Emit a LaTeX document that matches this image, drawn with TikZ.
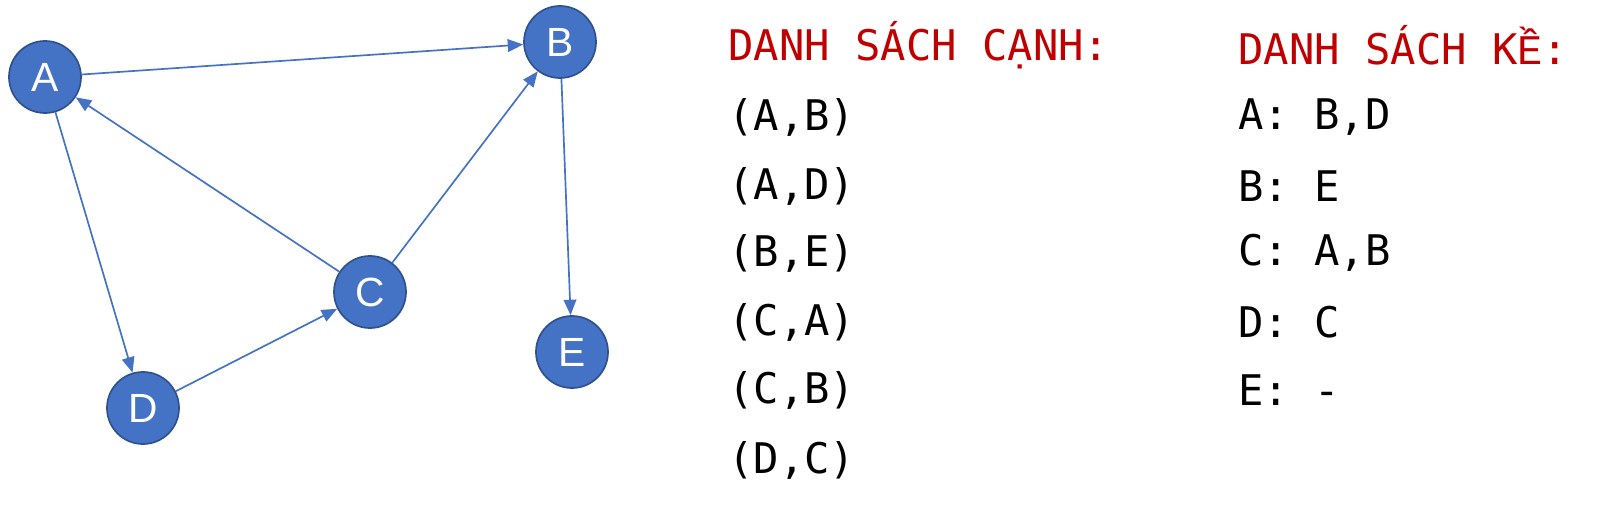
\documentclass[tikz,border=0pt]{standalone}
\usepackage{fontspec}
\setmonofont{DejaVu Sans Mono}
\setsansfont{Liberation Sans}
\newfontfamily\vnmono{Liberation Mono}
\usetikzlibrary{arrows.meta}
\definecolor{nodeblue}{HTML}{4472C4}
\definecolor{nodeedge}{HTML}{2F528F}
\definecolor{headred}{HTML}{C00000}
\tikzset{
  vert/.style = {circle, draw=nodeedge, fill=nodeblue, line width=1.2pt, minimum size=1.8cm,
    inner sep=0pt, text=white, font=\sffamily\fontsize{29}{30}\selectfont},
  edge/.style = {-{Stealth[length=11pt,width=9pt,inset=0pt]}, nodeblue, line width=1.2pt},
  txt/.style = {anchor=west, inner sep=0pt, font=\ttfamily\fontsize{30}{32}\selectfont},
  head/.style = {txt, text=headred}
}
\begin{document}
\begin{tikzpicture}[x=0.025cm, y=-0.025cm]
    \useasboundingbox (0,0) rectangle (1600,524);

    \node[vert] (A) at (45, 77)  {A};
    \node[vert] (B) at (560, 42) {B};
    \node[vert] (C) at (370, 292) {C};
    \node[vert] (D) at (143, 408) {D};
    \node[vert] (E) at (572, 352) {E};

    \draw [edge] (A) -- (B);
    \draw [edge] (A) -- (D);
    \draw [edge] (B) -- (E);
    \draw [edge] (C) -- (A);
    \draw [edge] (C) -- (B);
    \draw [edge] (D) -- (C);

    \node[head] (h1) at (728, 45) {DANH SÁCH CẠNH:};
    \node[head] (h2) at (1238, 45) {DANH SÁCH K{\vnmono Ề}:};

    \node[txt] (e1) at (728, 117) {(A,B)};
    \node[txt] (e2) at (728, 186) {(A,D)};
    \node[txt] (e3) at (728, 253) {(B,E)};
    \node[txt] (e4) at (728, 322) {(C,A)};
    \node[txt] (e5) at (728, 390) {(C,B)};
    \node[txt] (e6) at (728, 460) {(D,C)};

    \node[txt] (l1) at (1238, 117) {A: B,D};
    \node[txt] (l2) at (1238, 186) {B: E};
    \node[txt] (l3) at (1238, 253) {C: A,B};
    \node[txt] (l4) at (1238, 322) {D: C};
    \node[txt] (l5) at (1238, 390) {E: -};
\end{tikzpicture}
\end{document}
